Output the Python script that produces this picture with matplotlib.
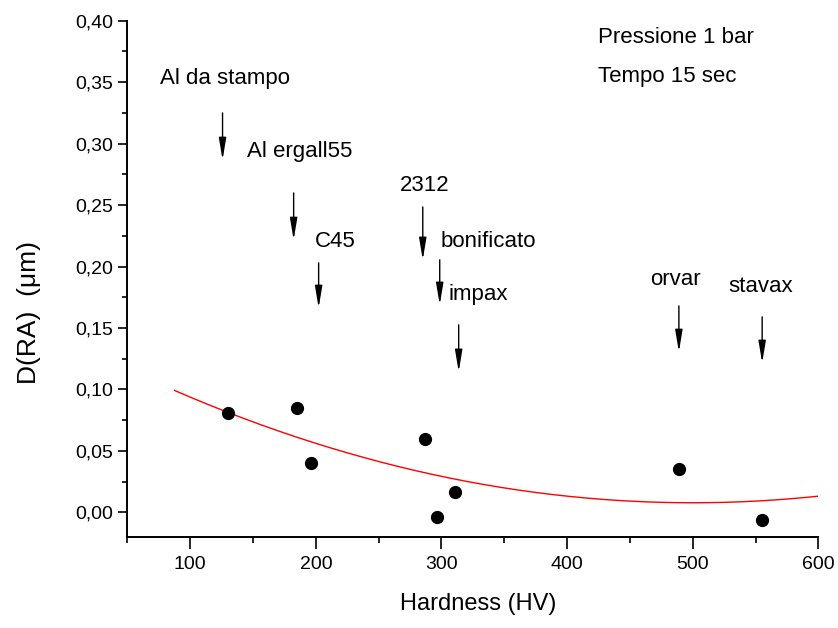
import numpy as np
import matplotlib
matplotlib.use("Agg")
import matplotlib.pyplot as plt
from matplotlib.ticker import MultipleLocator, FuncFormatter

# punti misurati: durezza (HV) e variazione di rugosita D(RA)
hardness = [129.7, 184.7, 195.8, 286.7, 296.2, 310.6, 489.0, 555.0]
d_ra = [0.081, 0.085, 0.040, 0.060, -0.0035, 0.017, 0.0355, -0.0065]

# fit polinomiale di secondo grado (coefficienti)
fit_coef = [5.37e-7, -5.37e-4, 0.1421]
fit_range = [87.5, 600.0]

# etichette dei materiali con le frecce
material_names = ["Al da stampo", "Al ergall55", "C45", "2312",
                  "bonificato", "impax", "orvar", "stavax"]
label_x = [127.3, 187.0, 215.7, 286.7, 336.9, 328.9, 485.9, 554.4]
label_y = [0.3534, 0.2933, 0.2201, 0.2656, 0.2201, 0.1770, 0.1892, 0.1835]
arrow_x = [125.7, 182.3, 202.2, 285.1, 298.6, 313.7, 489.0, 555.3]
arrow_top = [0.325, 0.2599, 0.203, 0.2485, 0.2055, 0.1526, 0.168, 0.1591]
arrow_bottom = [0.2868, 0.2217, 0.1664, 0.2055, 0.1689, 0.1144, 0.1306, 0.1217]

plt.rcParams["font.family"] = ["Liberation Sans", "DejaVu Sans"]

fig = plt.figure(figsize=(8.38, 6.28), dpi=100)
ax = fig.add_axes([0.1521, 0.1449, 0.8244, 0.8221])

# curva di fit
xf = np.linspace(fit_range[0], fit_range[1], 300)
ax.plot(xf, np.polyval(fit_coef, xf), color="red", lw=1.0, zorder=2)

# punti
ax.plot(hardness, d_ra, "o", color="black", markersize=8.5, zorder=3)

for name, tx, ty in zip(material_names, label_x, label_y):
    ax.text(tx, ty, name, ha="center", va="center", fontsize=16)

for x, yt, yb in zip(arrow_x, arrow_top, arrow_bottom):
    ax.annotate("", xy=(x, yb), xytext=(x, yt),
                arrowprops=dict(arrowstyle="-|>,head_length=1.2,head_width=0.2",
                                color="black", lw=1.0, shrinkA=0, shrinkB=0,
                                mutation_scale=11))

ax.text(0.681, 0.968, "Pressione 1 bar", transform=ax.transAxes,
        ha="left", va="center", fontsize=16)
ax.text(0.681, 0.891, "Tempo 15 sec", transform=ax.transAxes,
        ha="left", va="center", fontsize=16)

ax.set_xlim(50, 600)
ax.set_ylim(-0.02, 0.40)

ax.xaxis.set_major_locator(MultipleLocator(100))
ax.xaxis.set_minor_locator(MultipleLocator(50))
ax.yaxis.set_major_locator(MultipleLocator(0.05))
ax.yaxis.set_minor_locator(MultipleLocator(0.025))
ax.yaxis.set_major_formatter(FuncFormatter(lambda v, p: f"{v:.2f}".replace(".", ",")))

ax.spines["top"].set_visible(False)
ax.spines["right"].set_visible(False)
for s in ["left", "bottom"]:
    ax.spines[s].set_linewidth(1.4)

ax.tick_params(axis="x", which="major", direction="out", length=8.5, width=1.2,
               labelsize=14, pad=5)
ax.tick_params(axis="x", which="minor", direction="out", length=4.5, width=1.2)
ax.tick_params(axis="y", which="major", direction="out", length=6.5, width=1.2,
               labelsize=14, pad=4)
ax.tick_params(axis="y", which="minor", direction="out", length=3.5, width=1.2)

ax.set_xlabel("Hardness (HV)", fontsize=17)
ax.set_ylabel("D(RA)  (μm)", fontsize=19)
ax.xaxis.set_label_coords(0.507, -0.108)
ax.yaxis.set_label_coords(-0.125, 0.434)

fig.savefig("out.png", dpi=100)
